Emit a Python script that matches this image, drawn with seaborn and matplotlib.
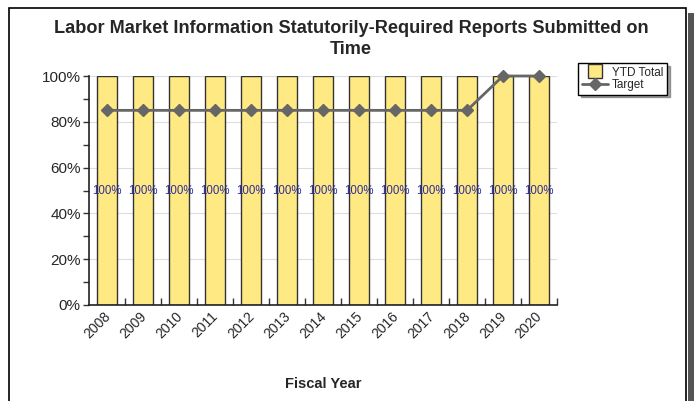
import matplotlib
matplotlib.use("Agg")
import matplotlib.pyplot as plt
import matplotlib.transforms as mtransforms
import seaborn as sns
import pandas as pd
from matplotlib.patches import Rectangle
from matplotlib.lines import Line2D
from matplotlib.ticker import MultipleLocator, FixedLocator, PercentFormatter

years = ["2008", "2009", "2010", "2011", "2012", "2013", "2014",
         "2015", "2016", "2017", "2018", "2019", "2020"]
ytd_total = [100, 100, 100, 100, 100, 100, 100, 100, 100, 100, 100, 100, 100]
target = [85, 85, 85, 85, 85, 85, 85, 85, 85, 85, 85, 100, 100]
bar_labels = ["100%"] * 13

sns.set_theme(style="white")
plt.rcParams['font.family'] = ['Liberation Sans', 'DejaVu Sans']

df = pd.DataFrame({"year": years, "ytd": ytd_total, "target": target})

fig = plt.figure(figsize=(6.96, 4.01), dpi=100)
ax = fig.add_axes([89/696, 1-305/401, (557-89)/696, (305-76)/401])

# frame and shadow
fig.patches.append(Rectangle((688/696, 0), 6/696, 1-13/401, transform=fig.transFigure,
                             facecolor="#555555", edgecolor="none", zorder=-2))
fig.patches.append(Rectangle((9/696, -0.1), (686-9)/696, 1.1-8/401, transform=fig.transFigure,
                             facecolor="none", edgecolor="black", linewidth=1.2, zorder=-1))

sns.barplot(data=df, x="year", y="ytd", ax=ax, color="#FFE983", saturation=1,
            width=0.53, edgecolor="#333333", linewidth=1.0, zorder=2)
ax.bar_label(ax.containers[0], labels=bar_labels, label_type="center",
             color="#2E2EA0", fontsize=8.3)

ax.plot(range(len(years)), target, color="#666666", linewidth=2, marker="D",
        markersize=6, zorder=4, clip_on=False)

ax.set_xlim(-0.5, len(years) - 0.5)
ax.set_ylim(0, 100)
ax.yaxis.set_major_locator(MultipleLocator(20))
ax.yaxis.set_minor_locator(MultipleLocator(10))
ax.yaxis.set_major_formatter(PercentFormatter(decimals=0))
ax.grid(axis="y", which="major", color="#dddddd", linewidth=0.8, zorder=0)
ax.set_axisbelow(True)

ax.xaxis.set_minor_locator(FixedLocator([i + 0.5 for i in range(len(years))]))
ax.tick_params(axis="x", which="major", length=0, labelsize=10, labelrotation=45, pad=3)
ax.tick_params(axis="x", which="minor", direction="in", length=5, width=1, color="#333333", bottom=True)
ax.tick_params(axis="y", which="both", direction="out", left=True, color="#333333", width=1)
ax.tick_params(axis="y", which="major", length=4, labelsize=11, pad=2)
ax.tick_params(axis="y", which="minor", length=4)
offset = mtransforms.ScaledTranslation(-4/100, 0, fig.dpi_scale_trans)
for lab in ax.get_xticklabels():
    lab.set_ha("right")
    lab.set_rotation_mode("anchor")
    lab.set_transform(lab.get_transform() + offset)

for s in ["top", "right"]:
    ax.spines[s].set_visible(False)
for s in ["left", "bottom"]:
    ax.spines[s].set_color("#222222")
    ax.spines[s].set_linewidth(1.2)

ax.set_ylabel("")
ax.set_xlabel("Fiscal Year", fontsize=10.5, fontweight="bold", labelpad=26)

fig.text(351/696, 1-39/401, "Labor Market Information Statutorily-Required Reports Submitted on\nTime",
         ha="center", va="center", fontsize=13.1, fontweight="bold", linespacing=1.25)

handles = [Line2D([0], [0], linestyle="none", marker="s", markersize=10,
                  markerfacecolor="#FFE983", markeredgecolor="#333333", markeredgewidth=1),
           Line2D([0], [0], color="#666666", linewidth=2, marker="D", markersize=6)]
leg = fig.legend(handles, ["YTD Total", "Target"], loc="upper left",
                 bbox_to_anchor=(578/696, 1-63/401), fontsize=8.5, frameon=True,
                 fancybox=False, shadow=True, edgecolor="black", handlelength=2.2,
                 borderpad=0.3, labelspacing=0.05, handletextpad=0.4,
                 borderaxespad=0)
leg.get_frame().set_linewidth(1)

fig.savefig("out.png", dpi=100)
